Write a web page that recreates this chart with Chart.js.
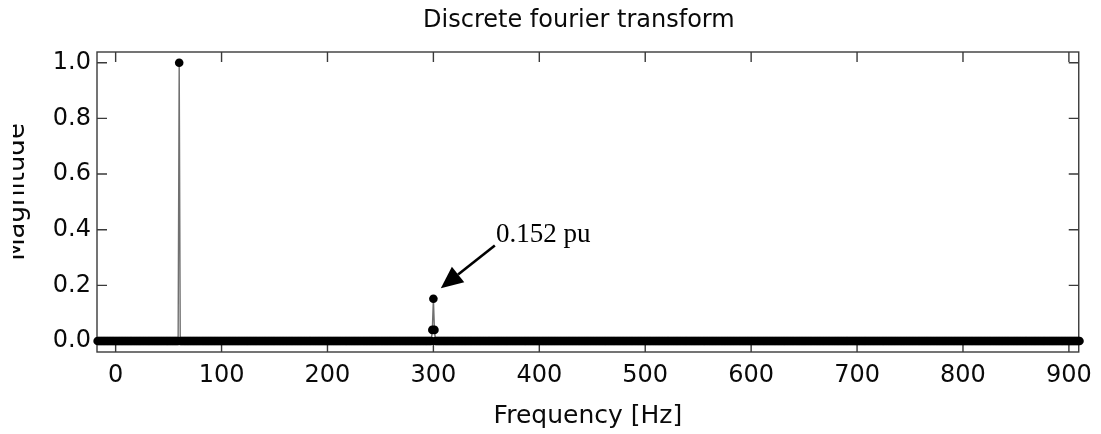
<!DOCTYPE html>
<html>
<head>
<meta charset="utf-8">
<script src="https://cdn.jsdelivr.net/npm/chart.js@4.4.1/dist/chart.umd.min.js"></script>
<style>
  html, body { margin: 0; padding: 0; background: #fff; }
  #wrap { width: 1101px; height: 434px; }
</style>
</head>
<body>
<div id="wrap"><canvas id="dft" width="1101" height="434"></canvas></div>
<script>
// spectrum: 1 Hz bins, flat floor except the fundamental and the 5th harmonic
const binFirst = -17;
const binLast = 910;
const peakFreqs = [60, 299, 300, 301];
const peakMags = [1.0, 0.04, 0.152, 0.04];

const xTicks = [0, 100, 200, 300, 400, 500, 600, 700, 800, 900];
const yTicks = [0, 0.2, 0.4, 0.6, 0.8, 1.0];

const titleText = 'Discrete fourier transform';
const xTitle = 'Frequency [Hz]';
const yTitle = 'Magnitude';

// annotation, in axis units (Hz, pu)
const noteText = '0.152 pu';
const noteAt = [359, 0.356];
const arrowFrom = [358, 0.343];
const arrowTo = [307, 0.19];

const spectrum = [];
for (let f = binFirst; f <= binLast; f++) {
    const k = peakFreqs.indexOf(f);
    spectrum.push({ x: f, y: k >= 0 ? peakMags[k] : 0 });
}

const FONT = '"DejaVu Sans", sans-serif';

const framePlugin = {
    id: 'frame',
    beforeDatasetsDraw(chart) {
        const { ctx, chartArea: a, scales: { x, y } } = chart;
        ctx.save();
        ctx.strokeStyle = '#3a3a3a';
        ctx.lineWidth = 1.4;
        ctx.strokeRect(a.left, a.top, a.right - a.left, a.bottom - a.top);

        // inward ticks on all four sides
        ctx.beginPath();
        x.ticks.forEach(t => {
            const px = x.getPixelForValue(t.value);
            ctx.moveTo(px, a.bottom);
            ctx.lineTo(px, a.bottom - 10);
            ctx.moveTo(px, a.top);
            ctx.lineTo(px, a.top + 10);
        });
        y.ticks.forEach(t => {
            const py = y.getPixelForValue(t.value);
            ctx.moveTo(a.left, py);
            ctx.lineTo(a.left + 10, py);
            ctx.moveTo(a.right, py);
            ctx.lineTo(a.right - 10, py);
        });
        ctx.stroke();
        ctx.restore();
    },
    afterDraw(chart) {
        const { ctx, chartArea: a, scales: { x, y } } = chart;
        ctx.save();
        ctx.fillStyle = '#0a0a0a';

        // plot label
        ctx.font = '24px ' + FONT;
        ctx.textAlign = 'center';
        ctx.textBaseline = 'alphabetic';
        ctx.fillText(titleText, (a.left + a.right) / 2 - 9, 27);

        // x axis title
        ctx.font = '25px ' + FONT;
        ctx.fillText(xTitle, (a.left + a.right) / 2, 423);

        // y axis title, cut off at the page edge as in the source
        ctx.save();
        ctx.beginPath();
        ctx.rect(13, 0, 60, chart.height);
        ctx.clip();
        ctx.translate(24, (a.top + a.bottom) / 2 - 10);
        ctx.rotate(-Math.PI / 2);
        ctx.font = '26px ' + FONT;
        ctx.fillText(yTitle, 0, 0);
        ctx.restore();

        // annotation
        ctx.font = '27px "Liberation Serif", "Times New Roman", serif';
        ctx.textAlign = 'left';
        ctx.fillStyle = '#000';
        ctx.fillText(noteText, x.getPixelForValue(noteAt[0]), y.getPixelForValue(noteAt[1]));

        const x0 = x.getPixelForValue(arrowFrom[0]), y0 = y.getPixelForValue(arrowFrom[1]);
        const x1 = x.getPixelForValue(arrowTo[0]), y1 = y.getPixelForValue(arrowTo[1]);
        const ang = Math.atan2(y1 - y0, x1 - x0);
        const head = 22, half = 10;
        const bx = x1 - head * Math.cos(ang), by = y1 - head * Math.sin(ang);
        ctx.strokeStyle = '#000';
        ctx.lineWidth = 2.6;
        ctx.beginPath();
        ctx.moveTo(x0, y0);
        ctx.lineTo(bx, by);
        ctx.stroke();
        ctx.beginPath();
        ctx.moveTo(x1, y1);
        ctx.lineTo(bx + half * Math.sin(ang), by - half * Math.cos(ang));
        ctx.lineTo(bx - half * Math.sin(ang), by + half * Math.cos(ang));
        ctx.closePath();
        ctx.fill();
        ctx.restore();
    }
};

new Chart(document.getElementById('dft'), {
    type: 'line',
    data: {
        datasets: [{
            data: spectrum,
            borderColor: '#707070',
            borderWidth: 1.4,
            pointRadius: 4.3,
            pointBackgroundColor: '#000',
            pointBorderWidth: 0,
            pointHoverRadius: 4.3,
            tension: 0,
            clip: false
        }]
    },
    options: {
        responsive: false,
        animation: false,
        events: [],
        layout: { padding: { top: 52, right: 20, left: 0, bottom: 0 } },
        plugins: {
            legend: { display: false },
            title: { display: false },
            tooltip: { enabled: false }
        },
        scales: {
            x: {
                type: 'linear',
                min: -17.6,
                max: 909.3,
                afterBuildTicks: s => { s.ticks = xTicks.map(v => ({ value: v })); },
                afterFit: s => { s.height = 82; },
                grid: { display: false, drawTicks: false },
                border: { display: false },
                ticks: {
                    padding: 9,
                    color: '#0a0a0a',
                    font: { family: 'DejaVu Sans', size: 24 },
                    maxRotation: 0,
                    callback: v => String(v)
                }
            },
            y: {
                type: 'linear',
                min: -0.0395,
                max: 1.0385,
                afterBuildTicks: s => { s.ticks = yTicks.map(v => ({ value: v })); },
                afterFit: s => { s.width = 97; },
                grid: { display: false, drawTicks: false },
                border: { display: false },
                ticks: {
                    padding: 6,
                    color: '#0a0a0a',
                    font: { family: 'DejaVu Sans', size: 24 },
                    callback: v => v.toFixed(1)
                }
            }
        }
    },
    plugins: [framePlugin]
});
</script>
</body>
</html>
